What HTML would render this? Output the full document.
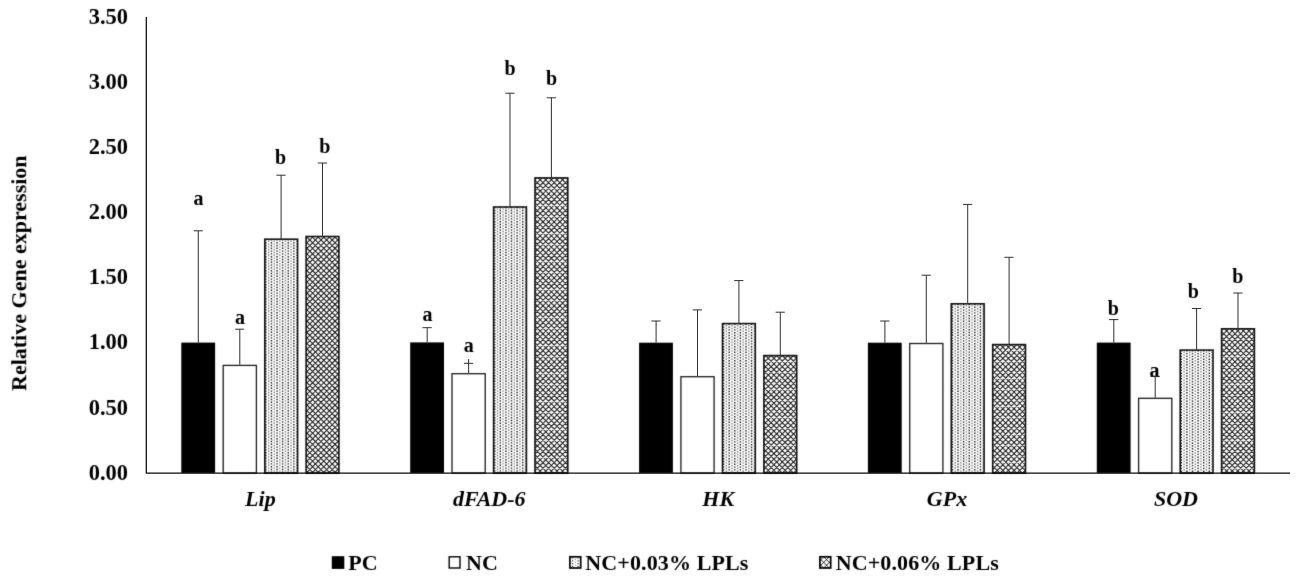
<!DOCTYPE html>
<html lang="en"><head><meta charset="utf-8"><title>Relative Gene expression</title>
<style>
html,body{margin:0;padding:0;background:#fff;}
body{width:1299px;height:577px;overflow:hidden;}
svg{display:block;}
text{font-family:"Liberation Serif","Times New Roman",serif;font-weight:bold;fill:#000;}
.tick{font-size:24px;text-anchor:end;}
.cat{font-size:22px;font-style:italic;text-anchor:middle;}
.lab{font-size:20px;text-anchor:middle;}
.leg{font-size:22px;letter-spacing:0.12px;}
.ttl{font-size:22px;}
.bar{stroke:#111;stroke-width:1.6;}
.wbar{stroke:#1c1c1c;stroke-width:1.3;}
.err{stroke:#303030;stroke-width:1.0;fill:none;}
.axis{stroke:#0a0a0a;stroke-width:1.25;fill:none;}
</style></head><body>
<svg width="1299" height="577" viewBox="0 0 1299 577">
<filter id="soft" x="0" y="0" width="1299" height="577" filterUnits="userSpaceOnUse" color-interpolation-filters="sRGB"><feConvolveMatrix order="3" kernelMatrix="0.0121 0.0858 0.0121 0.0858 0.6084 0.0858 0.0121 0.0858 0.0121" edgeMode="duplicate" preserveAlpha="false"/></filter>
<rect width="1299" height="577" fill="#fff"/>
<g filter="url(#soft)">

<rect x="181.3" y="342.6" width="33.8" height="130.4" fill="#000"/>
<rect class="wbar" x="223.2" y="365.4" width="33.2" height="107.6" fill="#fff"/>
<clipPath id="c02"><rect x="264.8" y="239.2" width="32.8" height="233.8"/></clipPath>
<rect x="264.8" y="239.2" width="32.8" height="233.8" fill="#fff"/>
<g clip-path="url(#c02)"><g fill="none" stroke-width="1.4" stroke-dasharray="1.4 1.40"><path stroke="#181818" stroke-dashoffset="0" d="M265.85,239.20V473.0M271.45,239.20V473.0M277.05,239.20V473.0M282.65,239.20V473.0M288.25,239.20V473.0M293.85,239.20V473.0"/><path stroke="#808080" stroke-dashoffset="1.40" d="M268.65,239.20V473.0M274.25,239.20V473.0M279.85,239.20V473.0M285.45,239.20V473.0M291.05,239.20V473.0M296.65,239.20V473.0"/></g></g>
<rect class="bar" x="264.8" y="239.2" width="32.8" height="233.8" fill="none"/>
<clipPath id="c03"><rect x="306.1" y="236.5" width="32.8" height="236.5"/></clipPath>
<rect x="306.1" y="236.5" width="32.8" height="236.5" fill="#fff"/>
<g clip-path="url(#c03)"><path fill="none" stroke="#222" stroke-width="1.1" d="M63.55,234.50l240.50,240.50M304.05,234.50l-240.50,240.50M69.15,234.50l240.50,240.50M309.65,234.50l-240.50,240.50M74.75,234.50l240.50,240.50M315.25,234.50l-240.50,240.50M80.35,234.50l240.50,240.50M320.85,234.50l-240.50,240.50M85.95,234.50l240.50,240.50M326.45,234.50l-240.50,240.50M91.55,234.50l240.50,240.50M332.05,234.50l-240.50,240.50M97.15,234.50l240.50,240.50M337.65,234.50l-240.50,240.50M102.75,234.50l240.50,240.50M343.25,234.50l-240.50,240.50M108.35,234.50l240.50,240.50M348.85,234.50l-240.50,240.50M113.95,234.50l240.50,240.50M354.45,234.50l-240.50,240.50M119.55,234.50l240.50,240.50M360.05,234.50l-240.50,240.50M125.15,234.50l240.50,240.50M365.65,234.50l-240.50,240.50M130.75,234.50l240.50,240.50M371.25,234.50l-240.50,240.50M136.35,234.50l240.50,240.50M376.85,234.50l-240.50,240.50M141.95,234.50l240.50,240.50M382.45,234.50l-240.50,240.50M147.55,234.50l240.50,240.50M388.05,234.50l-240.50,240.50M153.15,234.50l240.50,240.50M393.65,234.50l-240.50,240.50M158.75,234.50l240.50,240.50M399.25,234.50l-240.50,240.50M164.35,234.50l240.50,240.50M404.85,234.50l-240.50,240.50M169.95,234.50l240.50,240.50M410.45,234.50l-240.50,240.50M175.55,234.50l240.50,240.50M416.05,234.50l-240.50,240.50M181.15,234.50l240.50,240.50M421.65,234.50l-240.50,240.50M186.75,234.50l240.50,240.50M427.25,234.50l-240.50,240.50M192.35,234.50l240.50,240.50M432.85,234.50l-240.50,240.50M197.95,234.50l240.50,240.50M438.45,234.50l-240.50,240.50M203.55,234.50l240.50,240.50M444.05,234.50l-240.50,240.50M209.15,234.50l240.50,240.50M449.65,234.50l-240.50,240.50M214.75,234.50l240.50,240.50M455.25,234.50l-240.50,240.50M220.35,234.50l240.50,240.50M460.85,234.50l-240.50,240.50M225.95,234.50l240.50,240.50M466.45,234.50l-240.50,240.50M231.55,234.50l240.50,240.50M472.05,234.50l-240.50,240.50M237.15,234.50l240.50,240.50M477.65,234.50l-240.50,240.50M242.75,234.50l240.50,240.50M483.25,234.50l-240.50,240.50M248.35,234.50l240.50,240.50M488.85,234.50l-240.50,240.50M253.95,234.50l240.50,240.50M494.45,234.50l-240.50,240.50M259.55,234.50l240.50,240.50M500.05,234.50l-240.50,240.50M265.15,234.50l240.50,240.50M505.65,234.50l-240.50,240.50M270.75,234.50l240.50,240.50M511.25,234.50l-240.50,240.50M276.35,234.50l240.50,240.50M516.85,234.50l-240.50,240.50M281.95,234.50l240.50,240.50M522.45,234.50l-240.50,240.50M287.55,234.50l240.50,240.50M528.05,234.50l-240.50,240.50M293.15,234.50l240.50,240.50M533.65,234.50l-240.50,240.50M298.75,234.50l240.50,240.50M539.25,234.50l-240.50,240.50M304.35,234.50l240.50,240.50M544.85,234.50l-240.50,240.50M309.95,234.50l240.50,240.50M550.45,234.50l-240.50,240.50M315.55,234.50l240.50,240.50M556.05,234.50l-240.50,240.50M321.15,234.50l240.50,240.50M561.65,234.50l-240.50,240.50M326.75,234.50l240.50,240.50M567.25,234.50l-240.50,240.50M332.35,234.50l240.50,240.50M572.85,234.50l-240.50,240.50M337.95,234.50l240.50,240.50M578.45,234.50l-240.50,240.50M343.55,234.50l240.50,240.50M584.05,234.50l-240.50,240.50M349.15,234.50l240.50,240.50M589.65,234.50l-240.50,240.50"/></g>
<rect class="bar" x="306.1" y="236.5" width="32.8" height="236.5" fill="none"/>
<text class="cat" x="260.4" y="506.3">Lip</text>
<rect x="410.2" y="342.4" width="33.8" height="130.6" fill="#000"/>
<rect class="wbar" x="452.0" y="373.7" width="33.2" height="99.3" fill="#fff"/>
<clipPath id="c12"><rect x="493.6" y="207.0" width="32.8" height="266.0"/></clipPath>
<rect x="493.6" y="207.0" width="32.8" height="266.0" fill="#fff"/>
<g clip-path="url(#c12)"><g fill="none" stroke-width="1.4" stroke-dasharray="1.4 1.40"><path stroke="#181818" stroke-dashoffset="0" d="M494.71,207.00V473.0M500.31,207.00V473.0M505.91,207.00V473.0M511.51,207.00V473.0M517.11,207.00V473.0M522.71,207.00V473.0"/><path stroke="#808080" stroke-dashoffset="1.40" d="M497.51,207.00V473.0M503.11,207.00V473.0M508.71,207.00V473.0M514.31,207.00V473.0M519.91,207.00V473.0M525.51,207.00V473.0"/></g></g>
<rect class="bar" x="493.6" y="207.0" width="32.8" height="266.0" fill="none"/>
<clipPath id="c13"><rect x="535.0" y="177.9" width="32.8" height="295.1"/></clipPath>
<rect x="535.0" y="177.9" width="32.8" height="295.1" fill="#fff"/>
<g clip-path="url(#c13)"><path fill="none" stroke="#222" stroke-width="1.1" d="M233.81,175.90l299.10,299.10M532.91,175.90l-299.10,299.10M239.41,175.90l299.10,299.10M538.51,175.90l-299.10,299.10M245.01,175.90l299.10,299.10M544.11,175.90l-299.10,299.10M250.61,175.90l299.10,299.10M549.71,175.90l-299.10,299.10M256.21,175.90l299.10,299.10M555.31,175.90l-299.10,299.10M261.81,175.90l299.10,299.10M560.91,175.90l-299.10,299.10M267.41,175.90l299.10,299.10M566.51,175.90l-299.10,299.10M273.01,175.90l299.10,299.10M572.11,175.90l-299.10,299.10M278.61,175.90l299.10,299.10M577.71,175.90l-299.10,299.10M284.21,175.90l299.10,299.10M583.31,175.90l-299.10,299.10M289.81,175.90l299.10,299.10M588.91,175.90l-299.10,299.10M295.41,175.90l299.10,299.10M594.51,175.90l-299.10,299.10M301.01,175.90l299.10,299.10M600.11,175.90l-299.10,299.10M306.61,175.90l299.10,299.10M605.71,175.90l-299.10,299.10M312.21,175.90l299.10,299.10M611.31,175.90l-299.10,299.10M317.81,175.90l299.10,299.10M616.91,175.90l-299.10,299.10M323.41,175.90l299.10,299.10M622.51,175.90l-299.10,299.10M329.01,175.90l299.10,299.10M628.11,175.90l-299.10,299.10M334.61,175.90l299.10,299.10M633.71,175.90l-299.10,299.10M340.21,175.90l299.10,299.10M639.31,175.90l-299.10,299.10M345.81,175.90l299.10,299.10M644.91,175.90l-299.10,299.10M351.41,175.90l299.10,299.10M650.51,175.90l-299.10,299.10M357.01,175.90l299.10,299.10M656.11,175.90l-299.10,299.10M362.61,175.90l299.10,299.10M661.71,175.90l-299.10,299.10M368.21,175.90l299.10,299.10M667.31,175.90l-299.10,299.10M373.81,175.90l299.10,299.10M672.91,175.90l-299.10,299.10M379.41,175.90l299.10,299.10M678.51,175.90l-299.10,299.10M385.01,175.90l299.10,299.10M684.11,175.90l-299.10,299.10M390.61,175.90l299.10,299.10M689.71,175.90l-299.10,299.10M396.21,175.90l299.10,299.10M695.31,175.90l-299.10,299.10M401.81,175.90l299.10,299.10M700.91,175.90l-299.10,299.10M407.41,175.90l299.10,299.10M706.51,175.90l-299.10,299.10M413.01,175.90l299.10,299.10M712.11,175.90l-299.10,299.10M418.61,175.90l299.10,299.10M717.71,175.90l-299.10,299.10M424.21,175.90l299.10,299.10M723.31,175.90l-299.10,299.10M429.81,175.90l299.10,299.10M728.91,175.90l-299.10,299.10M435.41,175.90l299.10,299.10M734.51,175.90l-299.10,299.10M441.01,175.90l299.10,299.10M740.11,175.90l-299.10,299.10M446.61,175.90l299.10,299.10M745.71,175.90l-299.10,299.10M452.21,175.90l299.10,299.10M751.31,175.90l-299.10,299.10M457.81,175.90l299.10,299.10M756.91,175.90l-299.10,299.10M463.41,175.90l299.10,299.10M762.51,175.90l-299.10,299.10M469.01,175.90l299.10,299.10M768.11,175.90l-299.10,299.10M474.61,175.90l299.10,299.10M773.71,175.90l-299.10,299.10M480.21,175.90l299.10,299.10M779.31,175.90l-299.10,299.10M485.81,175.90l299.10,299.10M784.91,175.90l-299.10,299.10M491.41,175.90l299.10,299.10M790.51,175.90l-299.10,299.10M497.01,175.90l299.10,299.10M796.11,175.90l-299.10,299.10M502.61,175.90l299.10,299.10M801.71,175.90l-299.10,299.10M508.21,175.90l299.10,299.10M807.31,175.90l-299.10,299.10M513.81,175.90l299.10,299.10M812.91,175.90l-299.10,299.10M519.41,175.90l299.10,299.10M818.51,175.90l-299.10,299.10M525.01,175.90l299.10,299.10M824.11,175.90l-299.10,299.10M530.61,175.90l299.10,299.10M829.71,175.90l-299.10,299.10M536.21,175.90l299.10,299.10M835.31,175.90l-299.10,299.10M541.81,175.90l299.10,299.10M840.91,175.90l-299.10,299.10M547.41,175.90l299.10,299.10M846.51,175.90l-299.10,299.10M553.01,175.90l299.10,299.10M852.11,175.90l-299.10,299.10M558.61,175.90l299.10,299.10M857.71,175.90l-299.10,299.10M564.21,175.90l299.10,299.10M863.31,175.90l-299.10,299.10M569.81,175.90l299.10,299.10M868.91,175.90l-299.10,299.10M575.41,175.90l299.10,299.10M874.51,175.90l-299.10,299.10"/></g>
<rect class="bar" x="535.0" y="177.9" width="32.8" height="295.1" fill="none"/>
<text class="cat" x="489.3" y="506.3">dFAD-6</text>
<rect x="639.1" y="342.7" width="33.8" height="130.3" fill="#000"/>
<rect class="wbar" x="680.9" y="376.7" width="33.2" height="96.3" fill="#fff"/>
<clipPath id="c22"><rect x="722.5" y="323.6" width="32.8" height="149.4"/></clipPath>
<rect x="722.5" y="323.6" width="32.8" height="149.4" fill="#fff"/>
<g clip-path="url(#c22)"><g fill="none" stroke-width="1.4" stroke-dasharray="1.4 1.40"><path stroke="#181818" stroke-dashoffset="0" d="M723.57,323.60V473.0M729.17,323.60V473.0M734.77,323.60V473.0M740.37,323.60V473.0M745.97,323.60V473.0M751.57,323.60V473.0"/><path stroke="#808080" stroke-dashoffset="1.40" d="M726.37,323.60V473.0M731.97,323.60V473.0M737.57,323.60V473.0M743.17,323.60V473.0M748.77,323.60V473.0M754.37,323.60V473.0"/></g></g>
<rect class="bar" x="722.5" y="323.6" width="32.8" height="149.4" fill="none"/>
<clipPath id="c23"><rect x="763.9" y="355.6" width="32.8" height="117.4"/></clipPath>
<rect x="763.9" y="355.6" width="32.8" height="117.4" fill="#fff"/>
<g clip-path="url(#c23)"><path fill="none" stroke="#222" stroke-width="1.1" d="M640.37,353.60l121.40,121.40M761.77,353.60l-121.40,121.40M645.97,353.60l121.40,121.40M767.37,353.60l-121.40,121.40M651.57,353.60l121.40,121.40M772.97,353.60l-121.40,121.40M657.17,353.60l121.40,121.40M778.57,353.60l-121.40,121.40M662.77,353.60l121.40,121.40M784.17,353.60l-121.40,121.40M668.37,353.60l121.40,121.40M789.77,353.60l-121.40,121.40M673.97,353.60l121.40,121.40M795.37,353.60l-121.40,121.40M679.57,353.60l121.40,121.40M800.97,353.60l-121.40,121.40M685.17,353.60l121.40,121.40M806.57,353.60l-121.40,121.40M690.77,353.60l121.40,121.40M812.17,353.60l-121.40,121.40M696.37,353.60l121.40,121.40M817.77,353.60l-121.40,121.40M701.97,353.60l121.40,121.40M823.37,353.60l-121.40,121.40M707.57,353.60l121.40,121.40M828.97,353.60l-121.40,121.40M713.17,353.60l121.40,121.40M834.57,353.60l-121.40,121.40M718.77,353.60l121.40,121.40M840.17,353.60l-121.40,121.40M724.37,353.60l121.40,121.40M845.77,353.60l-121.40,121.40M729.97,353.60l121.40,121.40M851.37,353.60l-121.40,121.40M735.57,353.60l121.40,121.40M856.97,353.60l-121.40,121.40M741.17,353.60l121.40,121.40M862.57,353.60l-121.40,121.40M746.77,353.60l121.40,121.40M868.17,353.60l-121.40,121.40M752.37,353.60l121.40,121.40M873.77,353.60l-121.40,121.40M757.97,353.60l121.40,121.40M879.37,353.60l-121.40,121.40M763.57,353.60l121.40,121.40M884.97,353.60l-121.40,121.40M769.17,353.60l121.40,121.40M890.57,353.60l-121.40,121.40M774.77,353.60l121.40,121.40M896.17,353.60l-121.40,121.40M780.37,353.60l121.40,121.40M901.77,353.60l-121.40,121.40M785.97,353.60l121.40,121.40M907.37,353.60l-121.40,121.40M791.57,353.60l121.40,121.40M912.97,353.60l-121.40,121.40M797.17,353.60l121.40,121.40M918.57,353.60l-121.40,121.40M802.77,353.60l121.40,121.40M924.17,353.60l-121.40,121.40"/></g>
<rect class="bar" x="763.9" y="355.6" width="32.8" height="117.4" fill="none"/>
<text class="cat" x="718.2" y="506.3">HK</text>
<rect x="867.9" y="342.7" width="33.8" height="130.3" fill="#000"/>
<rect class="wbar" x="909.7" y="343.5" width="33.2" height="129.5" fill="#fff"/>
<clipPath id="c32"><rect x="951.3" y="303.8" width="32.8" height="169.2"/></clipPath>
<rect x="951.3" y="303.8" width="32.8" height="169.2" fill="#fff"/>
<g clip-path="url(#c32)"><g fill="none" stroke-width="1.4" stroke-dasharray="1.4 1.40"><path stroke="#181818" stroke-dashoffset="0" d="M952.43,303.80V473.0M958.03,303.80V473.0M963.63,303.80V473.0M969.23,303.80V473.0M974.83,303.80V473.0M980.43,303.80V473.0"/><path stroke="#808080" stroke-dashoffset="1.40" d="M955.23,303.80V473.0M960.83,303.80V473.0M966.43,303.80V473.0M972.03,303.80V473.0M977.63,303.80V473.0M983.23,303.80V473.0"/></g></g>
<rect class="bar" x="951.3" y="303.8" width="32.8" height="169.2" fill="none"/>
<clipPath id="c33"><rect x="992.7" y="344.6" width="32.8" height="128.4"/></clipPath>
<rect x="992.7" y="344.6" width="32.8" height="128.4" fill="#fff"/>
<g clip-path="url(#c33)"><path fill="none" stroke="#222" stroke-width="1.1" d="M858.23,342.60l132.40,132.40M990.63,342.60l-132.40,132.40M863.83,342.60l132.40,132.40M996.23,342.60l-132.40,132.40M869.43,342.60l132.40,132.40M1001.83,342.60l-132.40,132.40M875.03,342.60l132.40,132.40M1007.43,342.60l-132.40,132.40M880.63,342.60l132.40,132.40M1013.03,342.60l-132.40,132.40M886.23,342.60l132.40,132.40M1018.63,342.60l-132.40,132.40M891.83,342.60l132.40,132.40M1024.23,342.60l-132.40,132.40M897.43,342.60l132.40,132.40M1029.83,342.60l-132.40,132.40M903.03,342.60l132.40,132.40M1035.43,342.60l-132.40,132.40M908.63,342.60l132.40,132.40M1041.03,342.60l-132.40,132.40M914.23,342.60l132.40,132.40M1046.63,342.60l-132.40,132.40M919.83,342.60l132.40,132.40M1052.23,342.60l-132.40,132.40M925.43,342.60l132.40,132.40M1057.83,342.60l-132.40,132.40M931.03,342.60l132.40,132.40M1063.43,342.60l-132.40,132.40M936.63,342.60l132.40,132.40M1069.03,342.60l-132.40,132.40M942.23,342.60l132.40,132.40M1074.63,342.60l-132.40,132.40M947.83,342.60l132.40,132.40M1080.23,342.60l-132.40,132.40M953.43,342.60l132.40,132.40M1085.83,342.60l-132.40,132.40M959.03,342.60l132.40,132.40M1091.43,342.60l-132.40,132.40M964.63,342.60l132.40,132.40M1097.03,342.60l-132.40,132.40M970.23,342.60l132.40,132.40M1102.63,342.60l-132.40,132.40M975.83,342.60l132.40,132.40M1108.23,342.60l-132.40,132.40M981.43,342.60l132.40,132.40M1113.83,342.60l-132.40,132.40M987.03,342.60l132.40,132.40M1119.43,342.60l-132.40,132.40M992.63,342.60l132.40,132.40M1125.03,342.60l-132.40,132.40M998.23,342.60l132.40,132.40M1130.63,342.60l-132.40,132.40M1003.83,342.60l132.40,132.40M1136.23,342.60l-132.40,132.40M1009.43,342.60l132.40,132.40M1141.83,342.60l-132.40,132.40M1015.03,342.60l132.40,132.40M1147.43,342.60l-132.40,132.40M1020.63,342.60l132.40,132.40M1153.03,342.60l-132.40,132.40M1026.23,342.60l132.40,132.40M1158.63,342.60l-132.40,132.40M1031.83,342.60l132.40,132.40M1164.23,342.60l-132.40,132.40"/></g>
<rect class="bar" x="992.7" y="344.6" width="32.8" height="128.4" fill="none"/>
<text class="cat" x="947.0" y="506.3">GPx</text>
<rect x="1096.8" y="342.6" width="33.8" height="130.4" fill="#000"/>
<rect class="wbar" x="1138.6" y="398.3" width="33.2" height="74.7" fill="#fff"/>
<clipPath id="c42"><rect x="1180.2" y="350.1" width="32.8" height="122.9"/></clipPath>
<rect x="1180.2" y="350.1" width="32.8" height="122.9" fill="#fff"/>
<g clip-path="url(#c42)"><g fill="none" stroke-width="1.4" stroke-dasharray="1.4 1.40"><path stroke="#181818" stroke-dashoffset="0" d="M1181.29,350.10V473.0M1186.89,350.10V473.0M1192.49,350.10V473.0M1198.09,350.10V473.0M1203.69,350.10V473.0M1209.29,350.10V473.0"/><path stroke="#808080" stroke-dashoffset="1.40" d="M1184.09,350.10V473.0M1189.69,350.10V473.0M1195.29,350.10V473.0M1200.89,350.10V473.0M1206.49,350.10V473.0M1212.09,350.10V473.0"/></g></g>
<rect class="bar" x="1180.2" y="350.1" width="32.8" height="122.9" fill="none"/>
<clipPath id="c43"><rect x="1221.6" y="328.8" width="32.8" height="144.2"/></clipPath>
<rect x="1221.6" y="328.8" width="32.8" height="144.2" fill="#fff"/>
<g clip-path="url(#c43)"><path fill="none" stroke="#222" stroke-width="1.1" d="M1071.29,326.80l148.20,148.20M1219.49,326.80l-148.20,148.20M1076.89,326.80l148.20,148.20M1225.09,326.80l-148.20,148.20M1082.49,326.80l148.20,148.20M1230.69,326.80l-148.20,148.20M1088.09,326.80l148.20,148.20M1236.29,326.80l-148.20,148.20M1093.69,326.80l148.20,148.20M1241.89,326.80l-148.20,148.20M1099.29,326.80l148.20,148.20M1247.49,326.80l-148.20,148.20M1104.89,326.80l148.20,148.20M1253.09,326.80l-148.20,148.20M1110.49,326.80l148.20,148.20M1258.69,326.80l-148.20,148.20M1116.09,326.80l148.20,148.20M1264.29,326.80l-148.20,148.20M1121.69,326.80l148.20,148.20M1269.89,326.80l-148.20,148.20M1127.29,326.80l148.20,148.20M1275.49,326.80l-148.20,148.20M1132.89,326.80l148.20,148.20M1281.09,326.80l-148.20,148.20M1138.49,326.80l148.20,148.20M1286.69,326.80l-148.20,148.20M1144.09,326.80l148.20,148.20M1292.29,326.80l-148.20,148.20M1149.69,326.80l148.20,148.20M1297.89,326.80l-148.20,148.20M1155.29,326.80l148.20,148.20M1303.49,326.80l-148.20,148.20M1160.89,326.80l148.20,148.20M1309.09,326.80l-148.20,148.20M1166.49,326.80l148.20,148.20M1314.69,326.80l-148.20,148.20M1172.09,326.80l148.20,148.20M1320.29,326.80l-148.20,148.20M1177.69,326.80l148.20,148.20M1325.89,326.80l-148.20,148.20M1183.29,326.80l148.20,148.20M1331.49,326.80l-148.20,148.20M1188.89,326.80l148.20,148.20M1337.09,326.80l-148.20,148.20M1194.49,326.80l148.20,148.20M1342.69,326.80l-148.20,148.20M1200.09,326.80l148.20,148.20M1348.29,326.80l-148.20,148.20M1205.69,326.80l148.20,148.20M1353.89,326.80l-148.20,148.20M1211.29,326.80l148.20,148.20M1359.49,326.80l-148.20,148.20M1216.89,326.80l148.20,148.20M1365.09,326.80l-148.20,148.20M1222.49,326.80l148.20,148.20M1370.69,326.80l-148.20,148.20M1228.09,326.80l148.20,148.20M1376.29,326.80l-148.20,148.20M1233.69,326.80l148.20,148.20M1381.89,326.80l-148.20,148.20M1239.29,326.80l148.20,148.20M1387.49,326.80l-148.20,148.20M1244.89,326.80l148.20,148.20M1393.09,326.80l-148.20,148.20M1250.49,326.80l148.20,148.20M1398.69,326.80l-148.20,148.20M1256.09,326.80l148.20,148.20M1404.29,326.80l-148.20,148.20M1261.69,326.80l148.20,148.20M1409.89,326.80l-148.20,148.20"/></g>
<rect class="bar" x="1221.6" y="328.8" width="32.8" height="144.2" fill="none"/>
<text class="cat" x="1175.9" y="506.3">SOD</text>
<text class="tick" transform="translate(128.0,479.6) scale(0.935,1)">0.00</text>
<text class="tick" transform="translate(128.0,414.5) scale(0.935,1)">0.50</text>
<text class="tick" transform="translate(128.0,349.3) scale(0.935,1)">1.00</text>
<text class="tick" transform="translate(128.0,284.2) scale(0.935,1)">1.50</text>
<text class="tick" transform="translate(128.0,219.0) scale(0.935,1)">2.00</text>
<text class="tick" transform="translate(128.0,153.9) scale(0.935,1)">2.50</text>
<text class="tick" transform="translate(128.0,88.7) scale(0.935,1)">3.00</text>
<text class="tick" transform="translate(128.0,23.6) scale(0.935,1)">3.50</text>
<text class="lab" x="198.5" y="204.9">a</text>
<text class="lab" x="240.0" y="324.2">a</text>
<text class="lab" x="280.6" y="164.2">b</text>
<text class="lab" x="324.8" y="153.2">b</text>
<text class="lab" x="427.5" y="321.4">a</text>
<text class="lab" x="468.8" y="351.9">a</text>
<text class="lab" x="510.0" y="74.5">b</text>
<text class="lab" x="551.6" y="85.2">b</text>
<text class="lab" x="1113.3" y="314.7">b</text>
<text class="lab" x="1154.6" y="376.5">a</text>
<text class="lab" x="1193.4" y="297.6">b</text>
<text class="lab" x="1237.8" y="282.9">b</text>
<text class="ttl" transform="translate(26.2,391) rotate(-90)" textLength="235.6" lengthAdjust="spacingAndGlyphs">Relative Gene expression</text>
<rect x="331.8" y="556.2" width="12.5" height="12.7" fill="#000"/>
<text class="leg" x="348.3" y="569.6">PC</text>
<rect x="449.2" y="556.8" width="10.8" height="11.2" fill="#fff"/>
<rect x="449.2" y="556.8" width="10.8" height="11.2" fill="none" stroke="#000" stroke-width="1.4"/>
<text class="leg" x="466.0" y="569.6">NC</text>
<rect x="569.9" y="556.8" width="10.8" height="11.2" fill="#fff"/>
<clipPath id="lg2"><rect x="569.9" y="556.8" width="10.8" height="11.2"/></clipPath>
<g clip-path="url(#lg2)" fill="none" stroke-width="1.2" stroke-dasharray="1.2 1.6"><path stroke="#333" d="M572.50,557.4v11.2M578.10,557.4v11.2"/><path stroke="#999" stroke-dashoffset="1.4" d="M575.30,557.4v11.2"/></g>
<rect x="569.9" y="556.8" width="10.8" height="11.2" fill="none" stroke="#000" stroke-width="1.7"/>
<text class="leg" x="585.3" y="569.6">NC+0.03% LPLs</text>
<rect x="819.9" y="556.8" width="10.8" height="11.2" fill="#fff"/>
<clipPath id="lg3"><rect x="819.9" y="556.8" width="10.8" height="11.2"/></clipPath>
<path clip-path="url(#lg3)" fill="none" stroke="#222" stroke-width="0.95" d="M804.90,554.80l15.20,15.20M820.10,554.80l-15.20,15.20M810.50,554.80l15.20,15.20M825.70,554.80l-15.20,15.20M816.10,554.80l15.20,15.20M831.30,554.80l-15.20,15.20M821.70,554.80l15.20,15.20M836.90,554.80l-15.20,15.20M827.30,554.80l15.20,15.20M842.50,554.80l-15.20,15.20M832.90,554.80l15.20,15.20M848.10,554.80l-15.20,15.20M838.50,554.80l15.20,15.20M853.70,554.80l-15.20,15.20"/>
<rect x="819.9" y="556.8" width="10.8" height="11.2" fill="none" stroke="#000" stroke-width="1.7"/>
<text class="leg" x="835.7" y="569.6">NC+0.06% LPLs</text>
</g>
<g><path class="err" d="M198.3,342.6 V230.8 M193.7,230.8 H202.8"/><path class="err" d="M239.8,364.9 V329.2 M235.1,329.2 H244.2"/><path class="err" d="M281.1,239.2 V175.2 M276.4,175.2 H285.6"/><path class="err" d="M322.5,236.5 V163.0 M317.8,163.0 H327.0"/><path class="err" d="M427.2,342.4 V327.7 M422.5,327.7 H431.7"/><path class="err" d="M468.6,373.2 V359.1 M463.9,363.3 H473.1"/><path class="err" d="M510.0,207.0 V93.2 M505.3,93.2 H514.5"/><path class="err" d="M551.4,177.9 V97.8 M546.7,97.8 H555.9"/><path class="err" d="M656.1,342.7 V321.0 M651.4,321.0 H660.6"/><path class="err" d="M697.5,376.2 V309.9 M692.8,309.9 H702.0"/><path class="err" d="M738.9,323.6 V280.6 M734.2,280.6 H743.4"/><path class="err" d="M780.3,355.6 V312.2 M775.6,312.2 H784.8"/><path class="err" d="M884.9,342.7 V321.0 M880.2,321.0 H889.4"/><path class="err" d="M926.3,343.0 V275.2 M921.6,275.2 H930.8"/><path class="err" d="M967.7,303.8 V204.4 M963.0,204.4 H972.2"/><path class="err" d="M1009.1,344.6 V257.3 M1004.4,257.3 H1013.6"/><path class="err" d="M1113.8,342.6 V319.6 M1109.1,319.6 H1118.3"/><path class="err" d="M1155.2,397.8 V376.4 M1150.5,376.4 H1159.7"/><path class="err" d="M1196.6,350.1 V308.5 M1191.9,308.5 H1201.1"/><path class="err" d="M1238.0,328.8 V293.0 M1233.3,293.0 H1242.5"/><path class="axis" d="M146.3,17 V473.2 H1290"/></g>
</svg>
</body></html>
